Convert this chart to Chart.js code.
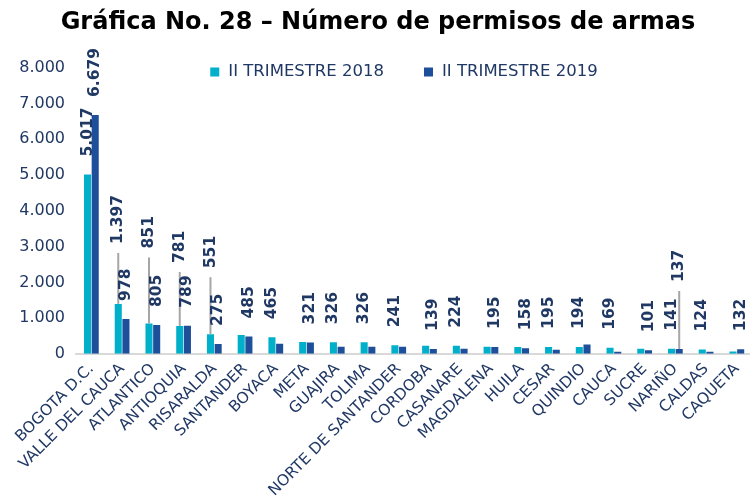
<!DOCTYPE html>
<html>
<head>
<meta charset="utf-8">
<script src="https://cdn.jsdelivr.net/npm/chart.js@4.4.1/dist/chart.umd.min.js"></script>
<style>
	body { margin: 0; overflow: hidden; background: #fff; }
	#contenedor { width: 756px; height: 506px; }
</style>
</head>
<body>
<div id="contenedor"><canvas id="grafica"></canvas></div>
<script>
const departamentos = ["BOGOTA D.C.", "VALLE DEL CAUCA", "ATLANTICO", "ANTIOQUIA", "RISARALDA", "SANTANDER", "BOYACA", "META", "GUAJIRA", "TOLIMA", "NORTE DE SANTANDER", "CORDOBA", "CASANARE", "MAGDALENA", "HUILA", "CESAR", "QUINDIO", "CAUCA", "SUCRE", "NARIÑO", "CALDAS", "CAQUETA"];
const series = ["II TRIMESTRE 2018", "II TRIMESTRE 2019"];
const valores2018 = [5017, 1397, 851, 781, 551, 530, 465, 335, 326, 326, 241, 225, 224, 200, 190, 195, 194, 169, 140, 141, 124, 65];
const valores2019 = [6679, 978, 805, 789, 275, 485, 280, 321, 200, 200, 200, 139, 140, 195, 158, 113, 263, 56, 101, 137, 56, 132];
const ticksY = [0, 1000, 2000, 3000, 4000, 5000, 6000, 7000, 8000];
// indices de las barras que llevan etiqueta
const etiquetas2018 = [0, 1, 2, 3, 4, 6, 8, 9, 10, 12, 15, 16, 17, 19, 20];
const etiquetas2019 = [0, 1, 2, 3, 4, 5, 7, 11, 13, 14, 18, 19, 21];

const FUENTE = "Verdana, 'DejaVu Sans', sans-serif";
const azulTexto = "#203864";
const mostrar = [etiquetas2018, etiquetas2019];
// etiquetas subidas (px) con linea guia gris
const guias = [{ 1: 42, 2: 57, 3: 45, 4: 48 }, { 19: 49 }];

function miles(v) {
	return String(v).replace(/\B(?=(\d{3})+(?!\d))/g, ".");
}

const etiquetasPlugin = {
	id: "etiquetas",
	afterDatasetsDraw(chart) {
		const ctx = chart.ctx;
		chart.data.datasets.forEach(function (ds, i) {
			const meta = chart.getDatasetMeta(i);
			meta.data.forEach(function (barra, j) {
				if (mostrar[i].indexOf(j) < 0) return;
				const extra = guias[i][j] || 0;
				const base = barra.y - 18 - extra;
				if (extra) {
					ctx.save();
					ctx.strokeStyle = "#A6A6A6";
					ctx.lineWidth = 2;
					ctx.beginPath();
					ctx.moveTo(barra.x, barra.y);
					ctx.lineTo(barra.x, base + 9);
					ctx.stroke();
					ctx.restore();
				}
				ctx.save();
				ctx.translate(barra.x, base);
				ctx.rotate(-Math.PI / 2);
				ctx.font = "bold 15.5px " + FUENTE;
				ctx.fillStyle = azulTexto;
				ctx.textAlign = "left";
				ctx.textBaseline = "middle";
				ctx.fillText(miles(ds.data[j]), 0, 0);
				ctx.restore();
			});
		});
	}
};

const leyendaPlugin = {
	id: "leyenda",
	afterDraw(chart) {
		const ctx = chart.ctx;
		const centro = 404, y = 72, caja = 9, sep = 9, hueco = 40;
		ctx.save();
		ctx.font = "16.5px " + FUENTE;
		ctx.textBaseline = "middle";
		const items = chart.data.datasets;
		const anchos = items.map(d => caja + sep + ctx.measureText(d.label).width);
		const total = anchos.reduce((a, b) => a + b, 0) + hueco * (items.length - 1);
		let x = centro - total / 2;
		items.forEach(function (d, i) {
			ctx.fillStyle = d.backgroundColor;
			ctx.fillRect(x, y - caja / 2, caja, caja);
			ctx.fillStyle = azulTexto;
			ctx.fillText(d.label, x + caja + sep, y);
			x += anchos[i] + hueco;
		});
		ctx.restore();
	}
};

new Chart(document.querySelector("#grafica"), {
	type: "bar",
	data: {
		labels: departamentos,
		datasets: [
			{ label: series[0], data: valores2018, backgroundColor: "#00B0CA", categoryPercentage: 0.5, barPercentage: 0.92 },
			{ label: series[1], data: valores2019, backgroundColor: "#1D4F9A", categoryPercentage: 0.5, barPercentage: 0.92 },
		],
	},
	options: {
		responsive: true,
		maintainAspectRatio: false,
		animation: false,
		layout: { padding: { left: 0, right: 0, top: 0, bottom: 0 } },
		plugins: {
			legend: { display: false },
			tooltip: { enabled: false },
			title: {
				display: true,
				text: "Gráfica No. 28 – Número de permisos de armas",
				color: "#000",
				font: { family: FUENTE, size: 24, weight: "bold" },
				padding: { top: 8, bottom: 31 },
			},
		},
		scales: {
			x: {
				grid: { display: false, drawTicks: false },
				border: { color: "#D9D9D9", width: 2 },
				ticks: {
					color: azulTexto,
					font: { family: FUENTE, size: 15.5 },
					minRotation: 45,
					maxRotation: 45,
					autoSkip: false,
					padding: 6,
				},
				afterFit: function (escala) {
					escala.paddingLeft = 0;
				},
			},
			y: {
				min: 0,
				max: 8000,
				grid: { display: false, drawTicks: false },
				border: { display: false },
				afterBuildTicks: function (escala) {
					escala.ticks = ticksY.map(v => ({ value: v }));
				},
				afterFit: function (escala) {
					escala.width = 76;
				},
				ticks: {
					color: azulTexto,
					font: { family: FUENTE, size: 16 },
					padding: 11,
					callback: v => miles(v),
				},
			},
		},
	},
	plugins: [etiquetasPlugin, leyendaPlugin],
});
</script>
</body>
</html>
